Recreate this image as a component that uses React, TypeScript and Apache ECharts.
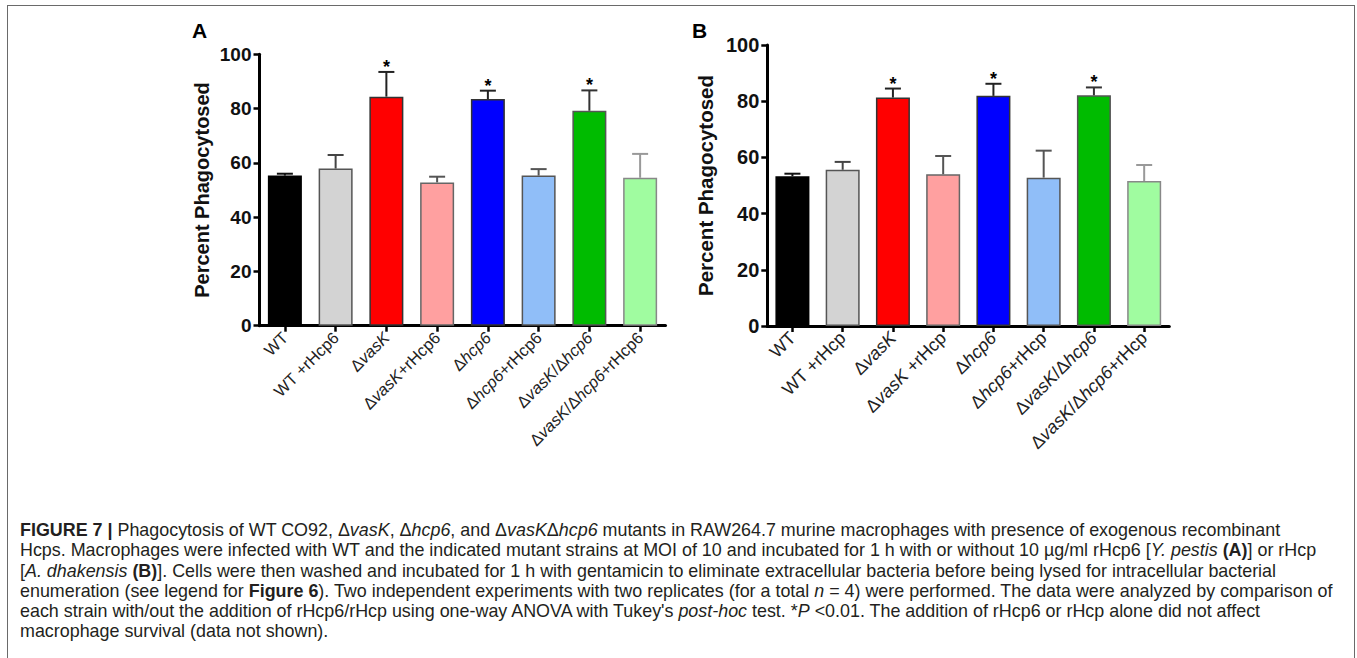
import React, { useEffect, useRef } from "react";
import * as echarts from "echarts";

const categoriesA = ["WT", "WT +rHcp6", "ΔvasK", "ΔvasK+rHcp6", "Δhcp6", "Δhcp6+rHcp6", "ΔvasK/Δhcp6", "ΔvasK/Δhcp6+rHcp6"];
const categoriesB = ["WT", "WT +rHcp", "ΔvasK", "ΔvasK +rHcp", "Δhcp6", "Δhcp6+rHcp", "ΔvasK/Δhcp6", "ΔvasK/Δhcp6+rHcp"];
const meansA = [55.3, 57.9, 84.4, 52.8, 83.5, 55.3, 79.2, 54.5];
const errTopA = [56.0, 62.9, 93.5, 54.9, 86.6, 57.7, 86.7, 63.3];
const meansB = [53.3, 55.6, 81.3, 54.0, 81.9, 52.8, 82.1, 51.6];
const errTopB = [54.2, 58.4, 84.5, 60.5, 86.2, 62.4, 84.9, 57.3];
const significant = [false, false, true, false, true, false, true, false];
const yTicks = [0, 20, 40, 60, 80, 100];

const barColors = ["#000000", "#d3d3d3", "#ff0000", "#ffa0a0", "#0000ff", "#90bef8", "#00bb00", "#a0fca0"];
const borderColors = ["#000000", "#555555", "#333333", "#666666", "#333333", "#555555", "#555555", "#888888"];
const whiskerColors = ["#111111", "#444444", "#222222", "#555555", "#222222", "#555555", "#333333", "#999999"];

const FONT = '"Liberation Sans", Arial, Helvetica, sans-serif';

function richLabel(s: string) {
  const withItalic = s.replace(/vasK/g, "{i|vasK}").replace(/hcp6/g, "{i|hcp6}");
  const parts = withItalic.split(/(\{i\|[^}]*\})/g).filter((p) => p.length > 0);
  return parts.map((p) => (p.startsWith("{i|") ? p : `{n|${p}}`)).join("");
}

function makeXAxis(cats: string[], gridIndex: number, fs: number) {
  return {
    type: "category",
    gridIndex,
    data: cats,
    axisLine: { show: true, lineStyle: { color: "#000", width: 3 } },
    axisTick: { show: true, alignWithLabel: true, length: 6, lineStyle: { color: "#000", width: 2.5 } },
    axisLabel: {
      interval: 0,
      rotate: 45,
      margin: 9,
      color: "#222",
      fontFamily: FONT,
      fontSize: fs,
      formatter: (v: string) => richLabel(v),
      rich: {
        n: { fontFamily: FONT, fontSize: fs, color: "#222" },
        i: { fontFamily: FONT, fontSize: fs, fontStyle: "italic", color: "#222" },
      },
    },
    splitLine: { show: false },
  };
}

function makeYAxis(gridIndex: number, fs: number, nameFs: number, nameGap: number) {
  return {
    type: "value",
    gridIndex,
    min: yTicks[0],
    max: yTicks[yTicks.length - 1],
    interval: 20,
    name: "Percent Phagocytosed",
    nameLocation: "middle",
    nameGap,
    nameTextStyle: { fontFamily: FONT, fontSize: nameFs, fontWeight: "bold", color: "#111" },
    axisLine: { show: true, lineStyle: { color: "#000", width: 3 } },
    axisTick: { show: true, length: 6, lineStyle: { color: "#000", width: 2.5 } },
    axisLabel: { fontFamily: FONT, fontSize: fs, fontWeight: "bold", color: "#111", margin: 8 },
    splitLine: { show: false },
  };
}

function barSeries(means: number[], idx: number) {
  return {
    type: "bar",
    xAxisIndex: idx,
    yAxisIndex: idx,
    barWidth: 34,
    data: means.map((m, i) => ({
      value: m,
      itemStyle: { color: barColors[i], borderColor: borderColors[i], borderWidth: 1.5 },
    })),
    z: 2,
  };
}

function errSeries(means: number[], tops: number[], idx: number) {
  return {
    type: "custom",
    xAxisIndex: idx,
    yAxisIndex: idx,
    z: 5,
    data: means.map((m, i) => [i, m, tops[i], significant[i] ? 1 : 0]),
    encode: { x: 0, y: 2 },
    renderItem: (params: any, api: any) => {
      const i = api.value(0);
      const top = api.coord([i, api.value(2)]);
      const base = api.coord([i, api.value(1)]);
      const color = whiskerColors[i];
      const children: any[] = [
        { type: "line", shape: { x1: top[0], y1: base[1], x2: top[0], y2: top[1] }, style: { stroke: color, lineWidth: 2 } },
        { type: "line", shape: { x1: top[0] - 8, y1: top[1], x2: top[0] + 8, y2: top[1] }, style: { stroke: color, lineWidth: 2 } },
      ];
      if (api.value(3)) {
        children.push({
          type: "text",
          x: top[0],
          y: top[1] - 5,
          style: { text: "*", font: `bold 18px ${FONT}`, fill: "#000", align: "center", verticalAlign: "middle" },
        });
      }
      return { type: "group", children };
    },
  };
}

export default function App() {
  const ref = useRef<HTMLDivElement>(null);
  useEffect(() => {
    if (!ref.current) return;
    const chart = echarts.init(ref.current, undefined, { renderer: "svg" });
    chart.setOption({
      animation: false,
      grid: [
        { left: 259.5, top: 54.3, width: 406, height: 271.4 },
        { left: 767.3, top: 45, width: 402, height: 281 },
      ],
      xAxis: [makeXAxis(categoriesA, 0, 16.5), makeXAxis(categoriesB, 1, 18)],
      yAxis: [makeYAxis(0, 19, 20, 48), makeYAxis(1, 20, 20.5, 51)],
      graphic: [
        { type: "text", left: 192, top: 20, style: { text: "A", font: `bold 21px ${FONT}`, fill: "#000" } },
        { type: "text", left: 692, top: 20, style: { text: "B", font: `bold 21px ${FONT}`, fill: "#000" } },
      ],
      series: [barSeries(meansA, 0), errSeries(meansA, errTopA, 0), barSeries(meansB, 1), errSeries(meansB, errTopB, 1)],
    });
    return () => chart.dispose();
  }, []);

  const capStyle: React.CSSProperties = {
    position: "absolute",
    left: 20,
    whiteSpace: "nowrap",
    fontFamily: FONT,
    fontSize: 17.9,
    lineHeight: "20px",
    color: "#231f20",
  };
  const lineTops = [520, 540, 561, 581, 601, 621];
  const Dv = () => (<>Δ<i>vasK</i></>);
  const Dh = () => (<>Δ<i>hcp6</i></>);
  const lines: React.ReactNode[] = [
    <><b>FIGURE 7 |</b> Phagocytosis of WT CO92, <Dv />, <Dh />, and <Dv /><Dh /> mutants in RAW264.7 murine macrophages with presence of exogenous recombinant</>,
    <>Hcps. Macrophages were infected with WT and the indicated mutant strains at MOI of 10 and incubated for 1 h with or without 10 µg/ml rHcp6 [<i>Y. pestis</i> <b>(A)</b>] or rHcp</>,
    <>[<i>A. dhakensis</i> <b>(B)</b>]. Cells were then washed and incubated for 1 h with gentamicin to eliminate extracellular bacteria before being lysed for intracellular bacterial</>,
    <>enumeration (see legend for <b>Figure 6</b>). Two independent experiments with two replicates (for a total <i>n</i> = 4) were performed. The data were analyzed by comparison of</>,
    <>each strain with/out the addition of rHcp6/rHcp using one-way ANOVA with Tukey's <i>post-hoc</i> test. *<i>P</i> &lt;0.01. The addition of rHcp6 or rHcp alone did not affect</>,
    <>macrophage survival (data not shown).</>,
  ];

  return (
    <div style={{ position: "fixed", left: 0, top: 0, width: 1357, height: 658, background: "#fff", overflow: "hidden" }}>
      <div style={{ position: "absolute", left: 7, top: 5, width: 1346, height: 700, border: "1.5px solid #6a6a6a", borderBottom: "none" }} />
      <div ref={ref} style={{ position: "absolute", left: 0, top: 0, width: 1357, height: 510 }} />
      {lines.map((l, k) => (
        <div key={k} style={{ ...capStyle, top: lineTops[k] }}>{l}</div>
      ))}
    </div>
  );
}
